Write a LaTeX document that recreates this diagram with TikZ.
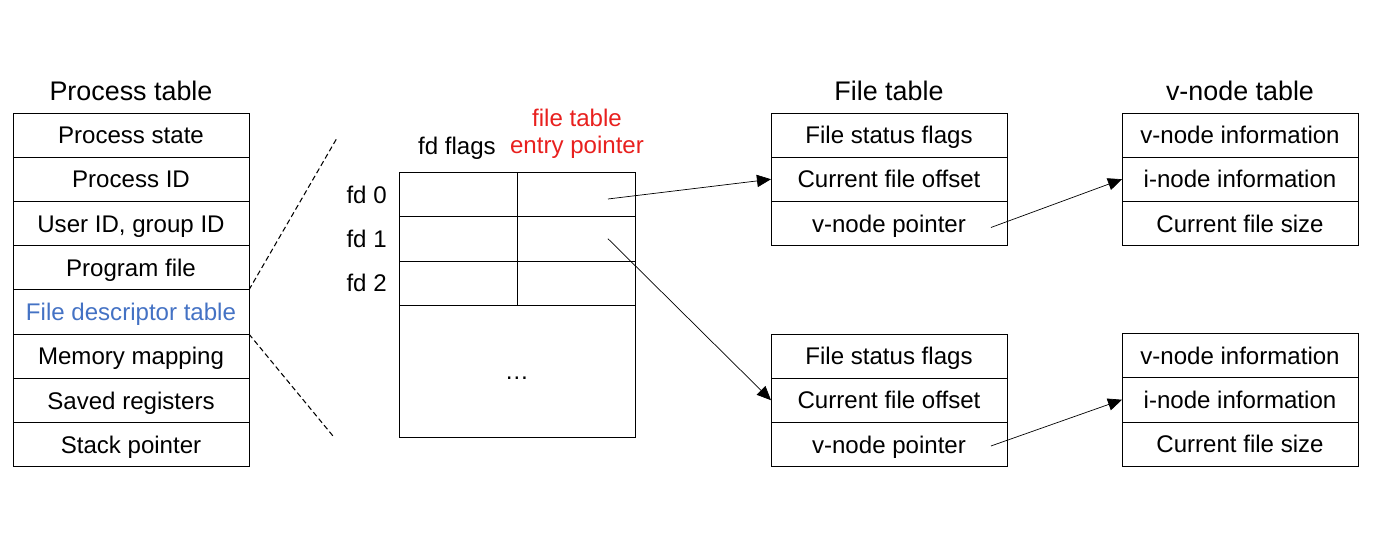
\documentclass[tikz,border=0pt]{standalone}
\usepackage{fontspec}
\setmainfont{Liberation Sans}
\usetikzlibrary{arrows.meta, positioning}
\newcommand{\cellfont}{\fontsize{13.7}{15.6}\selectfont}
\newcommand{\headfont}{\fontsize{15.3}{18}\selectfont}
\definecolor{fdblue}{RGB}{68,114,196}
\definecolor{ptrred}{RGB}{232,32,30}
\tikzset{
	line width=0.75pt,
	row/.style={draw, minimum width=4.72cm, minimum height=0.885cm, inner sep=0pt, outer sep=0pt,
		text height=9.8pt, text depth=0pt, font=\cellfont},
	fdcell/.style={row, minimum width=2.36cm},
	heading/.style={font=\headfont, inner sep=0pt, text height=10.9pt, text depth=0pt},
	lbl/.style={font=\cellfont, inner sep=0pt, text height=9.8pt, text depth=0pt},
	ptr/.style={-{Triangle[length=8pt, width=7pt]}},
	zoomline/.style={dash pattern=on 3pt off 1.8pt, line width=0.6pt}
}

\begin{document}
\begin{tikzpicture}[x=0.02cm, y=-0.02cm]
	\useasboundingbox (0,0) rectangle (1374,550);

	% process table
	\node[heading] (pthead) at (131,91) {Process table};
	\node[row] (state) at (131,135) {Process state};
	\node[row, below=0pt of state] (pid) {Process ID};
	\node[row, below=0pt of pid] (uid) {User ID, group ID};
	\node[row, below=0pt of uid] (prog) {Program file};
	\node[row, below=0pt of prog, text=fdblue] (fdt) {File descriptor table};
	\node[row, below=0pt of fdt] (mem) {Memory mapping};
	\node[row, below=0pt of mem] (regs) {Saved registers};
	\node[row, below=0pt of regs] (sp) {Stack pointer};

	% zoom lines
	\coordinate (zt) at (337,138);
	\coordinate (zb) at (333,436);
	\draw[zoomline] (fdt.north east) -- (zt);
	\draw[zoomline] (fdt.south east) -- (zb);

	% file descriptor table
	\node[lbl] (flags) at (457,146) {fd flags};
	\node[font=\cellfont, inner sep=0pt, align=center, text=ptrred] (entry) at (577,134) {file table\\entry pointer};
	\node[fdcell] (fd0l) at (458,194.5) {};
	\node[fdcell, right=0pt of fd0l] (fd0r) {};
	\node[fdcell, below=0pt of fd0l] (fd1l) {};
	\node[fdcell, right=0pt of fd1l] (fd1r) {};
	\node[fdcell, below=0pt of fd1l] (fd2l) {};
	\node[fdcell, right=0pt of fd2l] (fd2r) {};
	\node[row, minimum height=2.64cm, below=0pt of fd2l.south east] (rest) {\dots};
	\node[lbl, left=0.24cm of fd0l] (fd0) {fd 0};
	\node[lbl, left=0.24cm of fd1l] (fd1) {fd 1};
	\node[lbl, left=0.24cm of fd2l] (fd2) {fd 2};

	% file table
	\node[heading] (fthead) at (889,91) {File table};
	\node[row] (ftaflags) at (889,135) {File status flags};
	\node[row, below=0pt of ftaflags] (ftaoff) {Current file offset};
	\node[row, below=0pt of ftaoff] (ftavp) {v-node pointer};
	\node[row] (ftbflags) at (889,356) {File status flags};
	\node[row, below=0pt of ftbflags] (ftboff) {Current file offset};
	\node[row, below=0pt of ftboff] (ftbvp) {v-node pointer};

	% v-node table
	\node[heading] (vthead) at (1240,91) {v-node table};
	\node[row] (vtainfo) at (1240,135) {v-node information};
	\node[row, below=0pt of vtainfo] (vtaino) {i-node information};
	\node[row, below=0pt of vtaino] (vtasize) {Current file size};
	\node[row] (vtbinfo) at (1240,355.5) {v-node information};
	\node[row, below=0pt of vtbinfo] (vtbino) {i-node information};
	\node[row, below=0pt of vtbino] (vtbsize) {Current file size};

	% pointers
	\draw[ptr] ([xshift=0.64cm, yshift=-0.09cm]fd0r.center) -- (ftaoff.west);
	\draw[ptr] ([xshift=0.64cm]fd1r.center) -- (ftboff.west);
	\draw[ptr] ([xshift=2.04cm, yshift=-0.08cm]ftavp.center) -- (vtaino.west);
	\draw[ptr] ([xshift=2.04cm, yshift=-0.03cm]ftbvp.center) -- (vtbino.west);
\end{tikzpicture}
\end{document}
